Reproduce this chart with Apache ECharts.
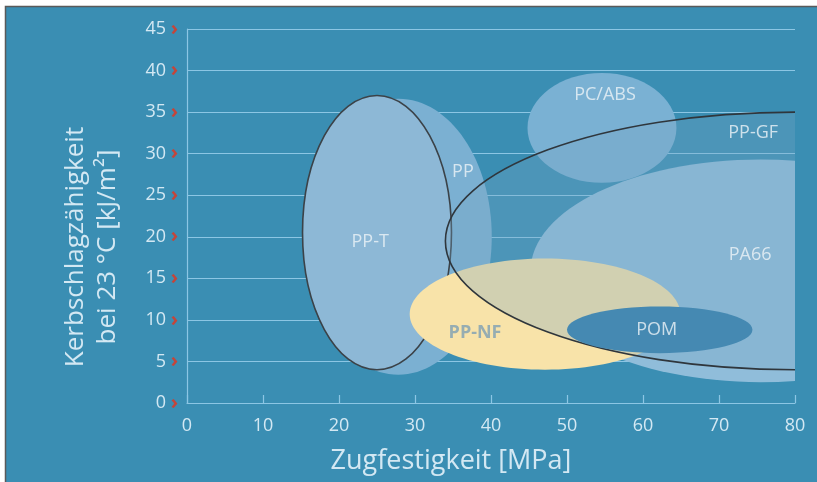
<!DOCTYPE html>
<html>
<head>
<meta charset="utf-8">
<script src="https://cdn.jsdelivr.net/npm/echarts@6/dist/echarts.min.js"></script>
<style>
  html, body { margin: 0; padding: 0; background: #ffffff; }
  #chart { width: 817px; height: 482px; }
</style>
</head>
<body>
<div id="chart"></div>
<script>
// Material property ranges: tensile strength (MPa) vs. notched impact strength (kJ/m²)
const materials = ['PP', 'PP-T', 'PC/ABS', 'PA66', 'PP-NF', 'PP-GF', 'POM'];
const centerX   = [27.8, 25.0, 54.6, 75.5, 47.1, 80.0, 62.2];
const centerY   = [20.0, 20.5, 33.1, 15.9, 10.7, 19.5,  8.8];
const radiusX   = [12.3,  9.8,  9.8, 30.3, 17.8, 46.0, 12.2];
const radiusY   = [16.6, 16.5,  6.6, 13.4,  6.7, 15.5,  2.8];

// Where each material name sits
const labelX = [36.3, 24.1, 55.0, 74.1, 37.9, 74.5, 61.8];
const labelY = [27.8, 19.4, 37.1, 17.8,  8.4, 32.5,  8.8];

// Axis extents and steps
const xRange = [0, 80, 10];
const yRange = [0, 45, 5];

// Drawing styles per material (fill, outline)
const styles = {
  'PP':     { fill: '#7bb0d2' },
  'PP-T':   { fill: '#8db8d6', stroke: '#3b4248' },
  'PC/ABS': { fill: '#7ab1d3' },
  'PA66':   { fill: '#90bdda' },
  'PP-NF':  { fill: '#f8e3a9' },
  'PP-GF':  { fill: 'rgba(120,165,195,0.3)', stroke: '#2f363c' },
  'POM':    { fill: '#4589b2' }
};
const drawOrder = ['PP', 'PP-T', 'PC/ABS', 'PA66', 'PP-NF', 'PP-GF', 'POM'];
const labelColors = { 'PP-NF': '#7d9fb4' };

const bg = '#3a8eb3';
const light = '#d3e8f3';
const gridColor = '#8cc6e4';

function ellipseSeries(name) {
  const i = materials.indexOf(name);
  const st = styles[name];
  return {
    type: 'custom',
    name: name,
    clip: true,
    silent: true,
    data: [[centerX[i], centerY[i], radiusX[i], radiusY[i]]],
    renderItem: function (params, api) {
      const c = api.coord([api.value(0), api.value(1)]);
      const s = api.size([api.value(2), api.value(3)]);
      return {
        type: 'ellipse',
        shape: { cx: c[0], cy: c[1], rx: s[0], ry: s[1] },
        style: {
          fill: st.fill,
          stroke: st.stroke || null,
          lineWidth: st.stroke ? 1.6 : 0
        }
      };
    }
  };
}

const labelData = materials.map((m, i) => ({
  value: [labelX[i], labelY[i], m],
  label: {
    color: labelColors[m] || '#eef4f8',
    fontWeight: m === 'PP-NF' ? 'bold' : 'normal'
  }
}));

const chart = echarts.init(document.getElementById('chart'), null, { renderer: 'canvas' });
chart.setOption({
  backgroundColor: bg,
  animation: false,
  textStyle: { fontFamily: '"Open Sans", "Noto Sans", sans-serif' },
  graphic: [
    { type: 'rect', shape: { x: 0, y: 0, width: 817, height: 6 }, style: { fill: '#ffffff' }, silent: true },
    { type: 'rect', shape: { x: 0, y: 0, width: 5, height: 482 }, style: { fill: '#ffffff' }, silent: true },
    { type: 'polyline', shape: { points: [[5.5, 482], [5.5, 6.5], [817, 6.5]] }, style: { stroke: '#5a5a5a', lineWidth: 1.5, fill: null }, silent: true }
  ],
  grid: { left: 187, right: 22, top: 29, bottom: 79, containLabel: false },
  xAxis: {
    type: 'value',
    min: xRange[0], max: xRange[1], interval: xRange[2],
    name: 'Zugfestigkeit [MPa]',
    nameLocation: 'middle',
    nameGap: 45,
    nameTextStyle: { color: light, fontSize: 27, padding: [0, 80, 0, 0] },
    axisLine: { show: true, lineStyle: { color: gridColor, width: 1.2 } },
    axisTick: { show: true, inside: true, length: 8, lineStyle: { color: gridColor, width: 1.2 } },
    axisLabel: { color: light, fontSize: 18, margin: 14 },
    splitLine: { show: false }
  },
  yAxis: {
    type: 'value',
    min: yRange[0], max: yRange[1], interval: yRange[2],
    name: 'Kerbschlagzähigkeit\nbei 23 °C [kJ/m²]',
    nameLocation: 'middle',
    nameGap: 63,
    nameRotate: 90,
    nameTextStyle: { color: light, fontSize: 26, lineHeight: 32, align: 'center', padding: [0, 62, 0, 0] },
    axisLine: { show: true, lineStyle: { color: gridColor, width: 1.2 } },
    axisTick: { show: false },
    axisLabel: {
      color: light, fontSize: 18, margin: 9,
      formatter: v => v + ' {m|›}',
      rich: { m: { color: '#c4453a', fontSize: 20, fontWeight: 'bold' } }
    },
    splitLine: { show: true, lineStyle: { color: gridColor, width: 1.2 } }
  },
  series: drawOrder.map(ellipseSeries).concat([{
    type: 'scatter',
    name: 'labels',
    silent: true,
    symbolSize: 0,
    data: labelData,
    label: {
      show: true,
      position: 'inside',
      formatter: p => p.value[2],
      fontSize: 18,
      color: '#eef4f8'
    },
    labelLayout: { hideOverlap: false }
  }])
});
</script>
</body>
</html>
